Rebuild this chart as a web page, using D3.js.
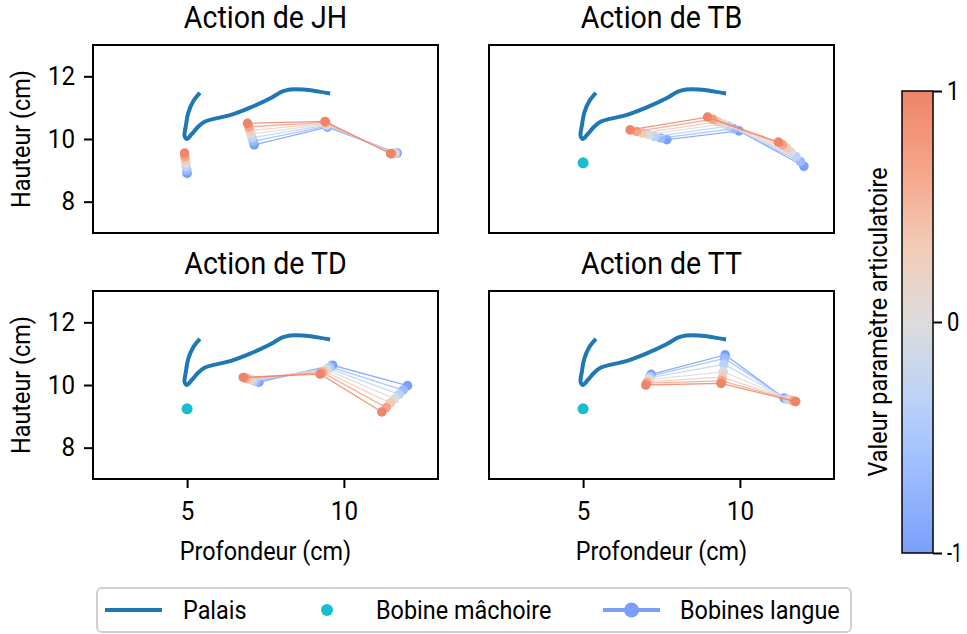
<!DOCTYPE html>
<html><head><meta charset="utf-8">
<script src="https://cdn.jsdelivr.net/npm/d3@7"></script>
<style>
html,body{margin:0;padding:0;background:#fff;}
svg text{font-family:Roboto,"Noto Sans",sans-serif;fill:#000;}
</style></head>
<body><svg id="c" width="967" height="634"></svg>
<script>
// ---------------- DATA ----------------
const params = [-1, -2/3, -1/3, 0, 1/3, 2/3, 1];
const panelNames = ["JH", "TB", "TD", "TT"];
const xTicks = [5, 10];
const yTicks = [8, 10, 12];
const cbTicks = [-1, 0, 1];
const palateX = [5.41,5.20,5.04,4.96,4.92,4.99,5.15,5.36,5.57,5.89,6.37,7.01,7.64,8.02,8.28,8.70,9.17,9.56];
const palateY = [11.47,11.21,10.84,10.42,10.10,10.00,10.16,10.40,10.56,10.65,10.76,11.00,11.29,11.51,11.58,11.58,11.52,11.45];
const jawRest = [5.0, 9.24];
const jawJH = [[5.00,8.90],[4.99,9.01],[4.97,9.12],[4.96,9.23],[4.95,9.33],[4.93,9.44],[4.92,9.55]];
// tongue coils per parameter value: [coil1, coil2, coil3] as [depth, height]
const tongueJH = [
  [[7.14,9.81],[9.47,10.38],[11.70,9.55]],
  [[7.11,9.93],[9.46,10.41],[11.67,9.55]],
  [[7.07,10.04],[9.45,10.44],[11.63,9.54]],
  [[7.04,10.16],[9.44,10.47],[11.60,9.54]],
  [[7.00,10.27],[9.42,10.50],[11.56,9.54]],
  [[6.97,10.39],[9.41,10.53],[11.53,9.53]],
  [[6.93,10.50],[9.40,10.56],[11.49,9.53]]];
const tongueTB = [
  [[7.67,9.98],[9.97,10.26],[12.04,9.13]],
  [[7.48,10.03],[9.80,10.33],[11.93,9.28]],
  [[7.28,10.08],[9.64,10.41],[11.79,9.44]],
  [[7.09,10.14],[9.47,10.48],[11.63,9.58]],
  [[6.89,10.19],[9.30,10.55],[11.49,9.71]],
  [[6.70,10.24],[9.14,10.63],[11.36,9.82]],
  [[6.50,10.29],[8.97,10.70],[11.23,9.90]]];
const tongueTD = [
  [[7.29,10.09],[9.64,10.63],[12.03,9.98]],
  [[7.21,10.12],[9.57,10.58],[11.89,9.84]],
  [[7.12,10.14],[9.51,10.54],[11.76,9.70]],
  [[7.04,10.17],[9.44,10.49],[11.62,9.56]],
  [[6.96,10.19],[9.37,10.44],[11.48,9.42]],
  [[6.87,10.22],[9.31,10.40],[11.35,9.28]],
  [[6.79,10.24],[9.24,10.35],[11.21,9.14]]];
const tongueTT = [
  [[7.17,10.34],[9.53,10.96],[11.41,9.58]],
  [[7.14,10.28],[9.51,10.85],[11.47,9.56]],
  [[7.11,10.23],[9.49,10.66],[11.53,9.54]],
  [[7.09,10.17],[9.47,10.42],[11.60,9.53]],
  [[7.06,10.11],[9.44,10.25],[11.66,9.51]],
  [[7.03,10.06],[9.42,10.13],[11.72,9.49]],
  [[7.00,10.00],[9.40,10.05],[11.78,9.47]]];
const legendLabels = ["Palais", "Bobine mâchoire", "Bobines langue"];

// ---------------- STYLE / LAYOUT ----------------
const palateColor = "#1f77b4", jawColor = "#17becf";
const cwStops = ["#7b9ff9","#9abbff","#bcd2f7","#dddcdc","#f2cbb7","#f5a488","#ee8468"];
const cw = d3.scaleLinear().domain(d3.range(7).map(i => -1 + i/3)).range(cwStops).interpolate(d3.interpolateRgb);
const svg = d3.select("#c");
function condense(f){ return sel => sel.each(function(){ const t=d3.select(this); const w=this.getComputedTextLength(); t.attr("textLength", w*f).attr("lengthAdjust","spacingAndGlyphs"); }); }

const pw = 345, ph = 188;
const layout = [
  {name:"JH", x0:93, y0:45, tongue:tongueJH, jaw:jawJH, left:true, bottom:false},
  {name:"TB", x0:489, y0:45, tongue:tongueTB, jaw:null, left:false, bottom:false},
  {name:"TD", x0:93, y0:291, tongue:tongueTD, jaw:null, left:true, bottom:true},
  {name:"TT", x0:489, y0:291, tongue:tongueTT, jaw:null, left:false, bottom:true}];

layout.forEach(p => {
  const x = d3.scaleLinear().domain([2,13]).range([p.x0, p.x0+pw]);
  const y = d3.scaleLinear().domain([7,13]).range([p.y0+ph, p.y0]);
  const g = svg.append("g");
  g.append("path").datum(d3.range(palateX.length))
    .attr("d", d3.line().curve(d3.curveCatmullRom).x(i => x(palateX[i])).y(i => y(palateY[i])))
    .attr("fill","none").attr("stroke",palateColor).attr("stroke-width",4);
  if (p.jaw) {
    p.jaw.forEach((j,i) => g.append("circle").attr("cx",x(j[0])).attr("cy",y(j[1])).attr("r",4.8).attr("fill",cw(params[i])));
  } else {
    g.append("circle").attr("cx",x(jawRest[0])).attr("cy",y(jawRest[1])).attr("r",5.5).attr("fill",jawColor);
  }
  p.tongue.forEach((st,i) => {
    const c = cw(params[i]);
    g.append("path").datum(st).attr("d", d3.line().x(d=>x(d[0])).y(d=>y(d[1])))
      .attr("fill","none").attr("stroke",c).attr("stroke-width",1.3).attr("stroke-opacity",0.85);
    st.forEach(d => g.append("circle").attr("cx",x(d[0])).attr("cy",y(d[1])).attr("r",4.8).attr("fill",c));
  });
  g.append("rect").attr("x",p.x0).attr("y",p.y0).attr("width",pw).attr("height",ph)
    .attr("fill","none").attr("stroke","#000").attr("stroke-width",2);
  svg.append("text").attr("x",p.x0+pw/2).attr("y",p.y0-17).attr("text-anchor","middle")
    .attr("font-size",31).text("Action de " + p.name).call(condense(0.92));
  if (p.left) {
    const ax = svg.append("g").attr("transform",`translate(${p.x0},0)`)
      .call(d3.axisLeft(y).tickValues(yTicks).tickSize(9).tickPadding(9).tickFormat(d3.format("d")));
    ax.select(".domain").remove();
    ax.selectAll("line").attr("stroke","#000").attr("stroke-width",2);
    ax.selectAll("text").attr("font-size",26).attr("font-family","Roboto").call(condense(0.93));
    svg.append("text").attr("transform",`translate(30,${p.y0+ph/2}) rotate(-90)`)
      .attr("text-anchor","middle").attr("font-size",26).text("Hauteur (cm)").call(condense(0.9));
  }
  if (p.bottom) {
    const ax = svg.append("g").attr("transform",`translate(0,${p.y0+ph})`)
      .call(d3.axisBottom(x).tickValues(xTicks).tickSize(9).tickPadding(14).tickFormat(d3.format("d")));
    ax.select(".domain").remove();
    ax.selectAll("line").attr("stroke","#000").attr("stroke-width",2);
    ax.selectAll("text").attr("font-size",26).attr("font-family","Roboto").call(condense(0.93));
    svg.append("text").attr("x",p.x0+pw/2).attr("y",560).attr("text-anchor","middle")
      .attr("font-size",26).text("Profondeur (cm)").call(condense(0.9));
  }
});

// ---------------- COLORBAR ----------------
const cbX = 902, cbW = 31, cbTop = 91, cbBot = 553;
const cbY = d3.scaleLinear().domain([-1,1]).range([cbBot, cbTop]);
const grad = svg.append("defs").append("linearGradient").attr("id","cbg").attr("x1",0).attr("y1",1).attr("x2",0).attr("y2",0);
cwStops.forEach((c,i) => grad.append("stop").attr("offset", i/(cwStops.length-1)).attr("stop-color", c));
svg.append("rect").attr("x",cbX).attr("y",cbTop).attr("width",cbW).attr("height",cbBot-cbTop).attr("fill","url(#cbg)")
  .attr("stroke","#000").attr("stroke-width",1.5);
const cax = svg.append("g").attr("transform",`translate(${cbX+cbW},0)`)
  .call(d3.axisRight(cbY).tickValues(cbTicks).tickSize(9).tickPadding(5).tickFormat(d3.format("d")));
cax.select(".domain").remove();
cax.selectAll("line").attr("stroke","#000").attr("stroke-width",2);
cax.selectAll("text").attr("font-size",25).attr("font-family","Roboto").text(d => d < 0 ? "-1" : d3.format("d")(d))
  .each(function(d){ const w=this.getComputedTextLength(); d3.select(this).attr("textLength", w*(d<0?0.72:0.88)).attr("lengthAdjust","spacingAndGlyphs"); });
svg.append("text").attr("transform",`translate(887,${(cbTop+cbBot)/2}) rotate(-90)`)
  .attr("text-anchor","middle").attr("font-size",26).text("Valeur paramètre articulatoire").call(condense(0.9));

// ---------------- LEGEND ----------------
const lg = svg.append("g");
lg.append("rect").attr("x",97).attr("y",588).attr("width",754).attr("height",44).attr("rx",5)
  .attr("fill","#fff").attr("stroke","#d0d0d0").attr("stroke-width",2);
const ly = 610;
lg.append("line").attr("x1",105).attr("x2",162).attr("y1",ly).attr("y2",ly).attr("stroke",palateColor).attr("stroke-width",4);
lg.append("circle").attr("cx",327).attr("cy",ly).attr("r",6).attr("fill",jawColor);
lg.append("line").attr("x1",603).attr("x2",660).attr("y1",ly).attr("y2",ly).attr("stroke",cw(-1)).attr("stroke-width",4);
lg.append("circle").attr("cx",631.5).attr("cy",ly).attr("r",7.5).attr("fill",cw(-1));
[[183,0],[376,1],[680,2]].forEach(([lx,i]) => lg.append("text").attr("x",lx).attr("y",ly+9).attr("font-size",26).text(legendLabels[i]).call(condense(0.9)));
</script></body></html>
